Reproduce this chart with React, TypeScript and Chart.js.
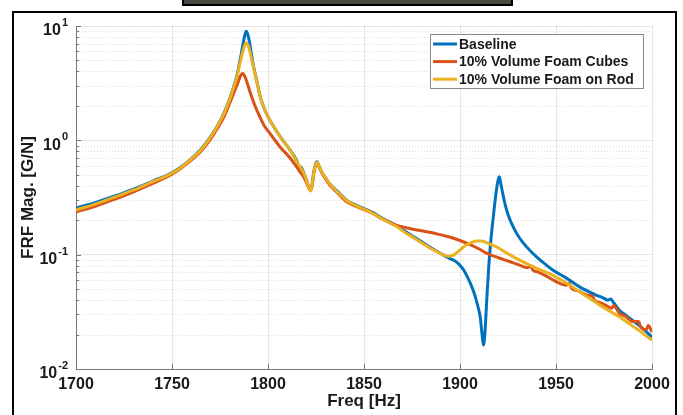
import React, { useEffect, useRef } from 'react';
import { Chart, registerables } from 'chart.js';

Chart.register(...registerables);

const seriesLabels = ['Baseline', '10% Volume Foam Cubes', '10% Volume Foam on Rod'];
const seriesColors = ['#0072BD', '#D95319', '#EDB120'];

const baselineFreq = [
  1700, 1710, 1720, 1730, 1740, 1750, 1755, 1760, 1765, 1770,
  1774, 1777, 1780, 1782, 1784, 1785, 1786, 1787, 1788, 1788.6,
  1789.5, 1790.5, 1791.5, 1792.5, 1794, 1796, 1798, 1801, 1806, 1811.5,
  1815, 1816.2, 1817.2, 1818.2, 1819, 1820, 1821, 1822.2, 1823, 1824,
  1825.5, 1826.5, 1828, 1830, 1832, 1836, 1841, 1845, 1850, 1855,
  1858, 1862, 1867, 1871, 1876, 1880, 1884, 1888, 1891, 1893.5,
  1895, 1897, 1899, 1902, 1905, 1907, 1909, 1910.5, 1911.5, 1912.2,
  1913, 1914, 1915, 1916, 1917, 1918, 1919, 1920, 1920.5, 1921,
  1922, 1923.4, 1925, 1927.7, 1931, 1934.7, 1940, 1945, 1948.5, 1955,
  1962.5, 1970, 1975, 1977, 1978.5, 1980, 1983, 1987, 1992, 1996,
  2000,
];
const baselineMag = [
  0.256, 0.285, 0.325, 0.375, 0.44, 0.52, 0.59, 0.69, 0.83, 1.07,
  1.37, 1.72, 2.3, 2.9, 3.8, 4.6, 5.6, 7.0, 8.4, 9.0,
  8.4, 7.0, 5.5, 4.4, 3.4, 2.4, 1.9, 1.5, 1.1, 0.82,
  0.66, 0.575, 0.585, 0.54, 0.5, 0.45, 0.4, 0.367, 0.42, 0.55,
  0.65, 0.6, 0.53, 0.47, 0.42, 0.36, 0.3, 0.275, 0.253, 0.232,
  0.215, 0.198, 0.18, 0.162, 0.143, 0.13, 0.117, 0.107, 0.1, 0.095,
  0.092, 0.089, 0.084, 0.073, 0.058, 0.048, 0.037, 0.0286, 0.02, 0.0162,
  0.021, 0.042, 0.08, 0.13, 0.19, 0.27, 0.37, 0.46, 0.48, 0.44,
  0.36, 0.28, 0.225, 0.175, 0.14, 0.117, 0.095, 0.081, 0.073, 0.063,
  0.052, 0.045, 0.0415, 0.04, 0.041, 0.038, 0.0327, 0.029, 0.025, 0.022,
  0.019,
];

const cubesFreq = [
  1700, 1710, 1720, 1730, 1740, 1750, 1755, 1760, 1765, 1770,
  1774, 1777, 1780, 1782, 1784, 1785.5, 1786.7, 1788, 1789.5, 1790.6,
  1793, 1795.8, 1798, 1801, 1806.2, 1811.5, 1816.7, 1818.5, 1820, 1821.9,
  1823, 1824, 1825.5, 1826.5, 1828, 1830, 1832, 1836, 1841, 1845,
  1850, 1855, 1858, 1862, 1867, 1872, 1876, 1880, 1885, 1890,
  1895, 1900, 1905, 1910, 1914, 1920, 1925, 1931, 1935, 1937,
  1938, 1940, 1945, 1948.5, 1952, 1955, 1957, 1958, 1962, 1966,
  1969, 1970, 1973, 1976, 1979, 1980, 1983, 1986, 1990, 1993,
  1994, 1997, 1998, 2000,
];
const cubesMag = [
  0.236, 0.265, 0.305, 0.355, 0.42, 0.505, 0.575, 0.67, 0.8, 1.02,
  1.3, 1.6, 2.1, 2.55, 3.1, 3.6, 3.87, 3.6, 3.05, 2.66,
  2.05, 1.6, 1.35, 1.15, 0.88, 0.7, 0.53, 0.48, 0.43, 0.367,
  0.4, 0.53, 0.64, 0.59, 0.52, 0.46, 0.41, 0.35, 0.29, 0.268,
  0.248, 0.228, 0.212, 0.196, 0.18, 0.172, 0.166, 0.162, 0.156, 0.149,
  0.142, 0.133, 0.123, 0.112, 0.1025, 0.094, 0.088, 0.081, 0.077, 0.079,
  0.073, 0.071, 0.065, 0.06, 0.056, 0.054, 0.056, 0.051, 0.048, 0.0444,
  0.0435, 0.04, 0.038, 0.036, 0.034, 0.036, 0.0306, 0.029, 0.026, 0.026,
  0.0235, 0.022, 0.024, 0.0211,
];

const rodFreq = [
  1700, 1710, 1720, 1730, 1740, 1750, 1755, 1760, 1765, 1770,
  1774, 1777, 1780, 1782, 1784, 1785, 1786, 1787, 1788, 1788.8,
  1789.6, 1790.5, 1791.5, 1792.5, 1794, 1796, 1798, 1801, 1806, 1811.5,
  1815, 1817.5, 1819, 1820, 1821, 1822.2, 1823, 1824, 1825.5, 1826.5,
  1828, 1830, 1832, 1836, 1841, 1845, 1850, 1855, 1858, 1862,
  1867, 1871, 1876, 1880, 1884, 1888, 1891, 1894, 1897, 1900,
  1903, 1906, 1909, 1911, 1914, 1919, 1925, 1931, 1940, 1948.5,
  1955, 1961, 1966, 1972, 1978, 1983, 1988, 1992, 1996, 2000,
];
const rodMag = [
  0.246, 0.277, 0.318, 0.368, 0.435, 0.515, 0.585, 0.685, 0.82, 1.06,
  1.36, 1.7, 2.28, 2.85, 3.7, 4.4, 5.2, 6.1, 6.9, 7.1,
  6.8, 6.1, 5.1, 4.3, 3.35, 2.4, 1.9, 1.5, 1.1, 0.82,
  0.65, 0.56, 0.5, 0.45, 0.4, 0.36, 0.41, 0.54, 0.64, 0.6,
  0.53, 0.47, 0.42, 0.355, 0.298, 0.272, 0.25, 0.228, 0.212, 0.195,
  0.176, 0.158, 0.14, 0.127, 0.115, 0.106, 0.1, 0.097, 0.1, 0.11,
  0.121, 0.128, 0.132, 0.132, 0.127, 0.117, 0.102, 0.0897, 0.076, 0.066,
  0.057, 0.049, 0.043, 0.037, 0.032, 0.0286, 0.025, 0.0225, 0.02, 0.0179,
];

const xTickValues = [1700, 1750, 1800, 1850, 1900, 1950, 2000];
const yDecadeValues = [0.01, 0.1, 1, 10];
const yDecadeExponents = ['-2', '-1', '0', '1'];
const xTitle = 'Freq [Hz]';
const yTitle = 'FRF Mag. [G/N]';

const FONT = "'Liberation Sans', Arial, Helvetica, sans-serif";
const TEXT = '#1a1a1a';

function toPoints(fs: number[], vs: number[]) {
  return fs.map((f, i) => ({ x: f, y: vs[i] }));
}

function yTickList() {
  const out: number[] = [];
  for (let e = -2; e <= 0; e++) {
    for (let m = 1; m <= 9; m++) out.push(+(m * Math.pow(10, e)).toPrecision(3));
  }
  out.push(10);
  return out;
}

function isDecade(v: number) {
  const l = Math.log10(v);
  return Math.abs(l - Math.round(l)) < 1e-6;
}

const decorPlugin = {
  id: 'decor',
  beforeDatasetsDraw(chart: any) {
    const { ctx, chartArea, scales } = chart;
    const y = scales.y;
    const x = scales.x;
    ctx.save();
    ctx.strokeStyle = 'rgba(0,0,0,0.13)';
    ctx.lineWidth = 1;
    ctx.setLineDash([1, 2]);
    y.ticks.forEach((t: any) => {
      if (isDecade(t.value)) return;
      const py = Math.round(y.getPixelForValue(t.value)) + 0.5;
      ctx.beginPath();
      ctx.moveTo(chartArea.left, py);
      ctx.lineTo(chartArea.right, py);
      ctx.stroke();
    });
    ctx.setLineDash([]);
    ctx.strokeStyle = '#777';
    y.ticks.forEach((t: any) => {
      const py = Math.round(y.getPixelForValue(t.value)) + 0.5;
      const len = isDecade(t.value) ? 5 : 3;
      ctx.beginPath();
      ctx.moveTo(chartArea.left, py);
      ctx.lineTo(chartArea.left + len, py);
      ctx.stroke();
    });
    x.ticks.forEach((t: any) => {
      const px = Math.round(x.getPixelForValue(t.value)) + 0.5;
      ctx.beginPath();
      ctx.moveTo(px, chartArea.bottom);
      ctx.lineTo(px, chartArea.bottom - 5);
      ctx.stroke();
    });
    ctx.restore();
  },
  afterDraw(chart: any) {
    const { ctx, chartArea, scales } = chart;
    const y = scales.y;
    ctx.save();
    ctx.fillStyle = TEXT;
    yDecadeValues.forEach((v, i) => {
      const py = y.getPixelForValue(v);
      const exp = yDecadeExponents[i];
      ctx.font = `bold 11px ${FONT}`;
      const ew = ctx.measureText(exp).width;
      const right = chartArea.left - 8;
      ctx.textBaseline = 'middle';
      ctx.textAlign = 'left';
      ctx.fillText(exp, right - ew, py - 3);
      ctx.font = `bold 16px ${FONT}`;
      ctx.textAlign = 'right';
      ctx.fillText('10', right - ew - 1, py + 5);
    });
    const bx = 430, by = 34, bw = 213, bh = 54;
    ctx.fillStyle = '#fff';
    ctx.fillRect(bx, by, bw, bh);
    ctx.strokeStyle = '#8a8a8a';
    ctx.lineWidth = 1;
    ctx.strokeRect(bx + 0.5, by + 0.5, bw, bh);
    chart.data.datasets.forEach((ds: any, i: number) => {
      const ry = by + 10 + i * 17.6;
      ctx.strokeStyle = ds.borderColor;
      ctx.lineWidth = 3;
      ctx.beginPath();
      ctx.moveTo(bx + 3, ry);
      ctx.lineTo(bx + 27, ry);
      ctx.stroke();
      ctx.fillStyle = TEXT;
      ctx.font = `bold 14px ${FONT}`;
      ctx.textAlign = 'left';
      ctx.textBaseline = 'middle';
      ctx.fillText(ds.label, bx + 29, ry + 1);
    });
    ctx.restore();
  },
};

export default function App() {
  const canvasRef = useRef<HTMLCanvasElement | null>(null);

  useEffect(() => {
    document.body.style.margin = '0';
    document.body.style.background = '#fff';
    const canvas = canvasRef.current;
    if (!canvas) return;
    const seriesData = [
      toPoints(baselineFreq, baselineMag),
      toPoints(cubesFreq, cubesMag),
      toPoints(rodFreq, rodMag),
    ];
    const chart = new Chart(canvas, {
      type: 'line',
      data: {
        datasets: seriesData.map((d, i) => ({
          label: seriesLabels[i],
          data: d,
          borderColor: seriesColors[i],
          backgroundColor: seriesColors[i],
          borderWidth: 3,
          pointRadius: 0,
          fill: false,
          cubicInterpolationMode: 'monotone' as const,
          order: 2 - i,
        })),
      },
      options: {
        animation: false,
        responsive: false,
        maintainAspectRatio: false,
        layout: { padding: { top: 26, right: 31, left: 0, bottom: 0 } },
        plugins: { legend: { display: false }, tooltip: { enabled: false } },
        scales: {
          x: {
            type: 'linear',
            min: 1700,
            max: 2000,
            afterBuildTicks: (s: any) => {
              s.ticks = xTickValues.map((v) => ({ value: v }));
            },
            afterFit: (s: any) => {
              s.height = 46;
            },
            grid: { color: 'rgba(0,0,0,0.1)', drawTicks: false },
            border: { display: true, color: '#777', width: 1 },
            ticks: {
              font: { family: FONT, weight: 'bold', size: 16 },
              color: TEXT,
              padding: 6,
              maxRotation: 0,
              autoSkip: false,
              callback: (v: any) => String(v),
            },
            title: {
              display: true,
              text: xTitle,
              color: TEXT,
              font: { family: FONT, weight: 'bold', size: 17 },
              padding: { top: 0, bottom: 3 },
            },
          },
          y: {
            type: 'logarithmic',
            min: 0.01,
            max: 10,
            afterBuildTicks: (s: any) => {
              s.ticks = yTickList().map((v) => ({ value: v }));
            },
            afterFit: (s: any) => {
              s.width = 76;
            },
            grid: {
              drawTicks: false,
              color: (c: any) => (c.tick && isDecade(c.tick.value) ? 'rgba(0,0,0,0.1)' : 'rgba(0,0,0,0)'),
            },
            border: { display: true, color: '#777', width: 1 },
            ticks: { display: false },
            title: {
              display: true,
              text: yTitle,
              color: TEXT,
              font: { family: FONT, weight: 'bold', size: 17 },
              padding: { top: 18, bottom: 0 },
            },
          },
        },
      },
      plugins: [decorPlugin],
    } as any);
    return () => chart.destroy();
  }, []);

  return (
    <div style={{ position: 'relative', width: 683, height: 415, overflow: 'hidden', background: '#fff' }}>
      <canvas ref={canvasRef} width={683} height={415} style={{ display: 'block', position: 'absolute', left: 0, top: 0 }} />
      <div
        style={{
          position: 'absolute',
          left: 12,
          top: 11,
          width: 661,
          height: 420,
          border: '2px solid #000',
          pointerEvents: 'none',
        }}
      />
      <div
        style={{
          position: 'absolute',
          left: 182,
          top: -2,
          width: 327,
          height: 4,
          border: '2px solid #000',
          background: '#4a4a42',
        }}
      />
    </div>
  );
}
